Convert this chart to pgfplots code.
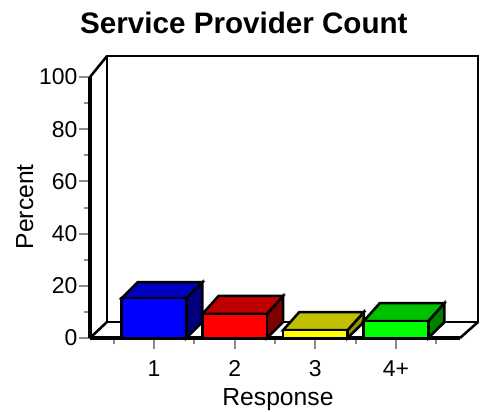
\documentclass[border=0pt]{standalone}
\usepackage{pgfplots}
\pgfplotsset{compat=1.18}
\usepackage{fontspec}
\setmainfont{Liberation Sans}
\definecolor{tickgray}{RGB}{140,140,140}
\begin{document}
\begin{tikzpicture}[x=0.75pt,y=0.75pt]
\path[use as bounding box] (0,0) rectangle (485,411);
\begin{axis}[
  at={(67.5pt,54.75pt)},anchor=south west,
  scale only axis,
  width=277.5pt,height=195.75pt,
  xmin=0.207,xmax=4.793,ymin=0,ymax=100,
  clip=false,
  axis lines=left,
  axis line style={-,line width=3.4pt,line cap=butt},
  xtick={1,2,3,4},xticklabels={1,2,3,4+},
  minor xtick={0.5,1.5,2.5,3.5,4.5},
  ytick={0,20,40,60,80,100},
  minor ytick={10,30,50,70,90},
  tick align=outside,
  major tick length=8.5pt,
  minor tick length=4.5pt,
  tick style={tickgray,line width=1.5pt},
  /pgf/number format/assume math mode=true,
  tick label style={font=\fontsize{17.2}{17.2}\selectfont,black},
  yticklabel style={xshift=2.5pt},
  xticklabel style={yshift=-5pt},
  xlabel={Response},
  ylabel={Percent},
  label style={font=\fontsize{18.5}{18.5}\selectfont},
  xlabel style={at={(axis description cs:0.508,-0.235)},anchor=center},
  ylabel style={at={(axis description cs:-0.176,0.503)},anchor=center},
  title={\textbf{Service Provider Count}},
  title style={font=\fontsize{22.2}{24}\selectfont,at={(axis description cs:0.416,1.175)},anchor=center},
]
% back wall and floor
\addplot[black,line width=1.9pt,line join=miter] coordinates {(0.417,6.13) (0.417,108) (5.016,108) (5.016,6.13) (0.417,6.13)};
\addplot[black,line width=1.9pt] coordinates {(0.207,0) (0.417,6.13)};
\addplot[black,line width=1.9pt] coordinates {(0.207,100) (0.417,108)};
\addplot[black,line width=1.9pt] coordinates {(4.793,0) (5.016,6.13)};
% bar 1
\addplot[draw=black,line width=1.9pt,fill={rgb,255:red,0;green,0;blue,127}] coordinates {(1.4,0) (1.6,6.1) (1.6,21.4) (1.4,15.3)} -- cycle;
\addplot[draw=black,line width=1.9pt,fill={rgb,255:red,0;green,0;blue,192}] coordinates {(0.6,15.3) (0.8,21.4) (1.6,21.4) (1.4,15.3)} -- cycle;
\addplot[draw=black,line width=1.9pt,fill={rgb,255:red,0;green,0;blue,255}] coordinates {(0.6,0) (1.4,0) (1.4,15.3) (0.6,15.3)} -- cycle;
% bar 2
\addplot[draw=black,line width=1.9pt,fill={rgb,255:red,127;green,0;blue,0}] coordinates {(2.4,0) (2.6,6.1) (2.6,16.1) (2.4,9.2)} -- cycle;
\addplot[draw=black,line width=1.9pt,fill={rgb,255:red,192;green,0;blue,0}] coordinates {(1.6,9.2) (1.8,16.1) (2.6,16.1) (2.4,9.2)} -- cycle;
\addplot[draw=black,line width=1.9pt,fill={rgb,255:red,255;green,0;blue,0}] coordinates {(1.6,0) (2.4,0) (2.4,9.2) (1.6,9.2)} -- cycle;
% bar 3
\addplot[draw=black,line width=1.9pt,fill={rgb,255:red,150;green,150;blue,0}] coordinates {(3.4,0) (3.6,6.1) (3.6,9.9) (3.4,3)} -- cycle;
\addplot[draw=black,line width=1.9pt,fill={rgb,255:red,192;green,192;blue,0}] coordinates {(2.6,3) (2.8,9.9) (3.6,9.9) (3.4,3)} -- cycle;
\addplot[draw=black,line width=1.9pt,fill={rgb,255:red,255;green,255;blue,0}] coordinates {(2.6,0) (3.4,0) (3.4,3) (2.6,3)} -- cycle;
% bar 4
\addplot[draw=black,line width=1.9pt,fill={rgb,255:red,0;green,127;blue,0}] coordinates {(4.4,0) (4.6,6.1) (4.6,13.4) (4.4,6.5)} -- cycle;
\addplot[draw=black,line width=1.9pt,fill={rgb,255:red,0;green,192;blue,0}] coordinates {(3.6,6.5) (3.8,13.4) (4.6,13.4) (4.4,6.5)} -- cycle;
\addplot[draw=black,line width=1.9pt,fill={rgb,255:red,0;green,255;blue,0}] coordinates {(3.6,0) (4.4,0) (4.4,6.5) (3.6,6.5)} -- cycle;
\end{axis}
\end{tikzpicture}
\end{document}
